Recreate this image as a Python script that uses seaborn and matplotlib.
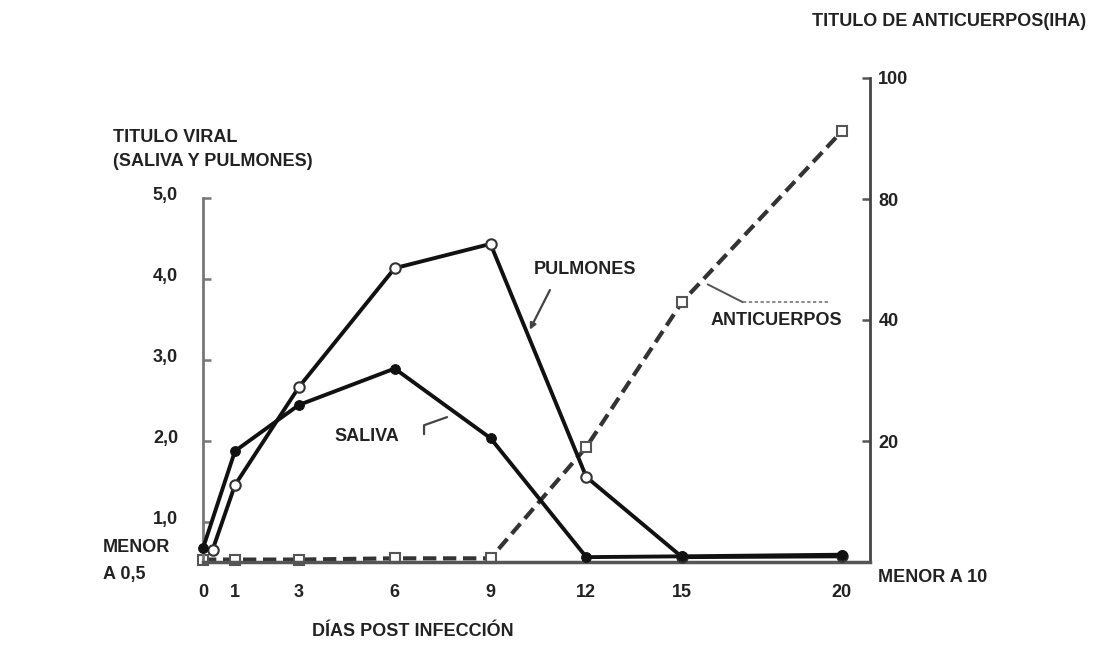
import numpy as np
import pandas as pd
import matplotlib
matplotlib.use("Agg")
import matplotlib.pyplot as plt
import matplotlib.transforms as mtransforms
import seaborn as sns

# =========================
# Data
# =========================
dias_saliva = [0, 1, 3, 6, 9, 12, 15, 20]
saliva = [0.67, 1.87, 2.44, 2.89, 2.03, 0.56, 0.57, 0.59]

dias_pulmones = [0.3, 1, 3, 6, 9, 12, 15, 20]
pulmones = [0.65, 1.45, 2.66, 4.13, 4.43, 1.55, 0.56, 0.57]

# antibody titre, as position on the right (2-fold step) axis: 0 = <10, 1 = 20, 2 = 40 ...
dias_anticuerpos = [0, 1, 3, 6, 9, 12, 15, 20]
anticuerpos_nivel = [0.02, 0.02, 0.02, 0.03, 0.03, 0.95, 2.15, 3.56]

x_ticks = [0, 1, 3, 6, 9, 12, 15, 20]
y_left_ticks = [1, 2, 3, 4, 5]
y_left_labels = ["1,0", "2,0", "3,0", "4,0", "5,0"]
y_right_ticks = [1, 2, 3, 4]
y_right_labels = ["20", "40", "80", "100"]

# =========================
# Style
# =========================
sns.set_style("white")
plt.rcParams["font.family"] = ["Liberation Sans", "DejaVu Sans"]
plt.rcParams["font.weight"] = "bold"
FS = 13
TXT = "#222222"
AXC = "#555555"

fig = plt.figure(figsize=(11.06, 6.46), dpi=100)
ax = fig.add_axes([203 / 1106, 84 / 646, 667 / 1106, 484 / 646])
ax2 = ax.twinx()

df_sal = pd.DataFrame({"dia": dias_saliva, "titulo": saliva})
df_pul = pd.DataFrame({"dia": dias_pulmones, "titulo": pulmones})
df_ac = pd.DataFrame({"dia": dias_anticuerpos, "nivel": anticuerpos_nivel})

sns.lineplot(data=df_ac, x="dia", y="nivel", ax=ax2, color="#333333", lw=3,
             linestyle=(0, (3.2, 1.6)), marker="s", markersize=6.5,
             markerfacecolor="white", markeredgecolor="#555555",
             markeredgewidth=1.5, clip_on=False, zorder=2)
sns.lineplot(data=df_pul, x="dia", y="titulo", ax=ax, color="#111111", lw=2.8,
             marker="o", markersize=7.5, markerfacecolor="white",
             markeredgecolor="#333333", markeredgewidth=1.5, clip_on=False, zorder=3)
sns.lineplot(data=df_sal, x="dia", y="titulo", ax=ax, color="#111111", lw=2.8,
             marker="o", markersize=7, markerfacecolor="#111111",
             markeredgecolor="#111111", clip_on=False, zorder=3)

# left axis: viral titre
ax.set_xlim(0, 20.88)
ax.set_ylim(0.5, 6.48)
ax.set_xticks(x_ticks)
ax.set_xticklabels([str(d) for d in x_ticks])
ax.set_yticks(y_left_ticks)
ax.set_yticklabels(y_left_labels)
ax.set_xlabel("")
ax.set_ylabel("")
ax.spines["top"].set_visible(False)
ax.spines["right"].set_visible(False)
ax.spines["left"].set_bounds(0.5, 5.0)
ax.spines["left"].set_color("#777777")
ax.spines["left"].set_linewidth(2)
ax.spines["bottom"].set_color(AXC)
ax.spines["bottom"].set_linewidth(2.5)
ax.tick_params(axis="y", direction="in", length=6, width=1.8, color="#777777",
               pad=18, labelsize=FS, labelcolor=TXT)
ax.tick_params(axis="x", direction="out", length=5, width=1.8, color="#777777",
               pad=11, labelsize=FS, labelcolor=TXT)
ax.set_zorder(ax2.get_zorder() + 1)
ax.patch.set_visible(False)
offset = mtransforms.ScaledTranslation(0, 4 / 100, fig.dpi_scale_trans)
for lbl in ax.get_yticklabels():
    lbl.set_transform(lbl.get_transform() + offset)

# right axis: antibody titre
ax2.set_ylim(0, 4)
ax2.set_yticks(y_right_ticks)
ax2.set_yticklabels(y_right_labels)
ax2.set_ylabel("")
for s in ["top", "left", "bottom"]:
    ax2.spines[s].set_visible(False)
ax2.spines["right"].set_color("#444444")
ax2.spines["right"].set_linewidth(2)
ax2.tick_params(axis="y", direction="in", length=6, width=1.8, color="#555555",
                pad=6, labelsize=FS, labelcolor=TXT)

# =========================
# Texts and leaders
# =========================
fig.text(113 / 1106, 1 - 137 / 646, "TITULO VIRAL", fontsize=FS, color=TXT, va="center")
fig.text(113 / 1106, 1 - 161 / 646, "(SALIVA Y PULMONES)", fontsize=FS, color=TXT, va="center")
fig.text(812 / 1106, 1 - 22 / 646, "TITULO DE ANTICUERPOS(IHA)", fontsize=FS, color=TXT, va="center")
fig.text(312 / 1106, 1 - 631 / 646, "DÍAS POST INFECCIÓN", fontsize=FS, color=TXT, va="center")
fig.text(103 / 1106, 1 - 548 / 646, "MENOR", fontsize=FS, color=TXT, va="center")
fig.text(103 / 1106, 1 - 575 / 646, "A 0,5", fontsize=FS, color=TXT, va="center")
fig.text(878 / 1106, 1 - 578 / 646, "MENOR A 10", fontsize=FS, color=TXT, va="center")

ax.text(10.35, 4.11, "PULMONES", fontsize=FS, color=TXT, va="center", ha="left")
ax.annotate("", xy=(10.23, 3.37), xytext=(10.86, 3.86),
            arrowprops=dict(arrowstyle="-|>", color="#444444", lw=1.6,
                            shrinkA=0, shrinkB=0, mutation_scale=9))

ax.text(4.1, 2.05, "SALIVA", fontsize=FS, color=TXT, va="center", ha="left")
ax.plot([6.92, 6.92, 7.64], [2.08, 2.19, 2.29], color="#444444", lw=1.6)

ax.text(15.9, 3.48, "ANTICUERPOS", fontsize=FS, color=TXT, va="center", ha="left")
ax.plot([15.8, 16.9], [3.93, 3.71], color="#555555", lw=1.4)
ax.plot([16.9, 19.6], [3.71, 3.71], color="#777777", lw=1.2, linestyle=(0, (2, 1.5)))

plt.savefig("out.png", dpi=100)
